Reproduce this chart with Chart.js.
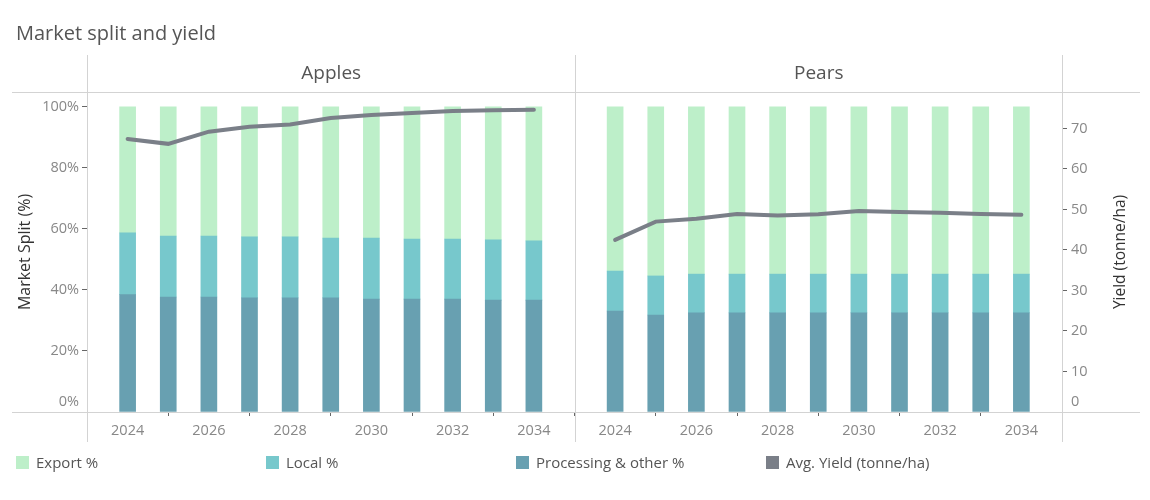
<!DOCTYPE html>
<html>
<head>
<meta charset="utf-8">
<script src="https://cdn.jsdelivr.net/npm/chart.js@4.4.1/dist/chart.umd.min.js"></script>
<style>
  html, body { margin: 0; padding: 0; background: #fff; }
  #wrap { position: relative; width: 1150px; height: 500px; font-family: "Open Sans", sans-serif; }
  #title { position: absolute; left: 16px; top: 19px; font-size: 20px; line-height: 28px; color: #555; }
  .leg { position: absolute; top: 453px; font-size: 15px; line-height: 18px; color: #555; display: flex; align-items: center; }
  .leg i { display: inline-block; width: 13px; height: 13px; margin-right: 7px; }
</style>
</head>
<body>
<div id="wrap">
  <div id="title">Market split and yield</div>
  <canvas id="myChart" width="1150" height="500"></canvas>
</div>
<script>
// values
var years = [2024, 2025, 2026, 2027, 2028, 2029, 2030, 2031, 2032, 2033, 2034];
var panels = ['Apples', 'Pears'];
var seriesNames = ['Export %', 'Local %', 'Processing & other %', 'Avg. Yield (tonne/ha)'];

var applesProcessing = [38.5, 37.7, 37.7, 37.4, 37.4, 37.4, 37.0, 37.0, 37.0, 36.7, 36.7];
var applesLocal      = [20.2, 20.0, 20.0, 20.0, 20.0, 19.6, 20.0, 19.7, 19.7, 19.7, 19.4];
var applesExport     = [41.3, 42.3, 42.3, 42.6, 42.6, 43.0, 43.0, 43.3, 43.3, 43.6, 43.9];
var pearsProcessing  = [33.1, 31.8, 32.5, 32.5, 32.5, 32.5, 32.5, 32.5, 32.5, 32.5, 32.5];
var pearsLocal       = [13.1, 12.8, 12.7, 12.7, 12.7, 12.7, 12.7, 12.7, 12.7, 12.7, 12.7];
var pearsExport      = [53.8, 55.4, 54.8, 54.8, 54.8, 54.8, 54.8, 54.8, 54.8, 54.8, 54.8];
var applesYield      = [67.4, 66.2, 69.2, 70.4, 71.0, 72.6, 73.3, 73.8, 74.3, 74.5, 74.6];
var pearsYield       = [42.5, 47.0, 47.7, 48.9, 48.5, 48.8, 49.6, 49.4, 49.2, 48.9, 48.7];

var yearTicks  = [2024, 2026, 2028, 2030, 2032, 2034];
var splitTicks = [0, 20, 40, 60, 80, 100];
var yieldTicks = [0, 10, 20, 30, 40, 50, 60, 70];

var colors = ['#bdefc9', '#77c8cc', '#68a0b1', '#7a7f88'];

// pears panel sits to the right of apples on the same x scale
var SHIFT = 12;
function pts(apples, pears) {
  var out = [];
  years.forEach(function (yr, i) { out.push({ x: yr, y: apples[i] }); });
  years.forEach(function (yr, i) { out.push({ x: yr + SHIFT, y: pears[i] }); });
  return out;
}
function line(vals, shift) {
  return years.map(function (yr, i) { return { x: yr + shift, y: vals[i] }; });
}

// legend
seriesNames.forEach(function (name, i) {
  var d = document.createElement('div');
  d.className = 'leg';
  d.style.left = (16 + i * 250) + 'px';
  d.innerHTML = '<i style="background:' + colors[i] + '"></i>' + name;
  document.getElementById('wrap').appendChild(d);
});

var frame = {
  id: 'frame',
  beforeDatasetsDraw: function (chart) {
    var ctx = chart.ctx, a = chart.chartArea, x = chart.scales.x;
    var mid = Math.round(x.getPixelForValue(2035)) + 0.5;
    ctx.save();
    ctx.strokeStyle = '#d3d3d3';
    ctx.lineWidth = 1;
    ctx.beginPath();
    [Math.round(a.top) + 0.5, Math.round(a.bottom) + 0.5].forEach(function (y) {
      ctx.moveTo(12, y); ctx.lineTo(1140, y);
    });
    [Math.round(a.left) + 0.5, mid, Math.round(a.right) + 0.5].forEach(function (px) {
      ctx.moveTo(px, 55); ctx.lineTo(px, 442);
    });
    ctx.stroke();
    ctx.fillStyle = '#555';
    ctx.font = '19px "Open Sans"';
    ctx.textAlign = 'center';
    ctx.textBaseline = 'middle';
    ctx.fillText(panels[0], (a.left + mid) / 2, 74);
    ctx.fillText(panels[1], (mid + a.right) / 2, 74);
    // right axis title, reading bottom to top like the left one
    ctx.fillStyle = '#333';
    ctx.font = '15.5px "Open Sans"';
    ctx.translate(1121, (a.top + a.bottom) / 2);
    ctx.rotate(-Math.PI / 2);
    ctx.fillText('Yield (tonne/ha)', 0, 0);
    ctx.restore();
  }
};

var tickFont = { family: '"Open Sans"', size: 14.5, lineHeight: 1.35 };

var myChart = new Chart(document.getElementById('myChart').getContext('2d'), {
  type: 'bar',
  data: {
    datasets: [
      { label: seriesNames[2], data: pts(applesProcessing, pearsProcessing), backgroundColor: colors[2], order: 1 },
      { label: seriesNames[1], data: pts(applesLocal, pearsLocal), backgroundColor: colors[1], order: 1 },
      { label: seriesNames[0], data: pts(applesExport, pearsExport), backgroundColor: colors[0], order: 1 },
      { type: 'line', label: seriesNames[3], data: line(applesYield, 0), yAxisID: 'y2',
        borderColor: colors[3], borderWidth: 4, pointRadius: 0, borderCapStyle: 'round', order: 0 },
      { type: 'line', label: seriesNames[3], data: line(pearsYield, SHIFT), yAxisID: 'y2',
        borderColor: colors[3], borderWidth: 4, pointRadius: 0, borderCapStyle: 'round', order: 0 }
    ]
  },
  options: {
    responsive: false,
    animation: false,
    barThickness: 16,
    layout: { padding: { top: 92, left: 0, right: 0, bottom: 0 } },
    plugins: { legend: { display: false }, tooltip: { enabled: false } },
    scales: {
      x: {
        type: 'linear', min: 2023, max: 2023 + 2 * SHIFT, stacked: true, offset: false,
        afterBuildTicks: function (s) {
          s.ticks = yearTicks.map(function (v) { return { value: v }; })
            .concat(yearTicks.map(function (v) { return { value: v + SHIFT }; }));
        },
        ticks: {
          autoSkip: false, maxRotation: 0, padding: 5, color: '#888', font: tickFont,
          callback: function (v) { return String(v > 2035 ? v - SHIFT : v); }
        },
        grid: { display: true, drawOnChartArea: false, tickLength: 4, tickColor: '#666' },
        border: { display: false },
        afterFit: function (s) { s.height = 88; }
      },
      y: {
        position: 'left', stacked: true, min: 0, max: 104.9,
        afterBuildTicks: function (s) { s.ticks = splitTicks.map(function (v) { return { value: v }; }); },
        ticks: {
          padding: 3, color: '#888', font: tickFont,
          callback: function (v) { return v === 0 ? ['0%', ''] : v + '%'; }
        },
        grid: {
          display: true, drawOnChartArea: false, tickLength: 5,
          tickColor: function (c) { return c.tick && c.tick.value === 0 ? 'rgba(0,0,0,0)' : '#666'; }
        },
        border: { display: false },
        title: { display: true, text: 'Market Split (%)', color: '#333', font: { family: '"Open Sans"', size: 16 }, padding: { top: 16, bottom: 0 } },
        afterFit: function (s) { s.width = 87; }
      },
      y2: {
        position: 'right', min: 0, max: 79,
        afterBuildTicks: function (s) { s.ticks = yieldTicks.map(function (v) { return { value: v }; }); },
        ticks: {
          padding: 4, color: '#888', font: tickFont,
          callback: function (v) { return v === 0 ? ['0', ''] : String(v); }
        },
        grid: {
          display: true, drawOnChartArea: false, tickLength: 5,
          tickColor: function (c) { return c.tick && c.tick.value === 0 ? 'rgba(0,0,0,0)' : '#666'; }
        },
        border: { display: false },
        afterFit: function (s) { s.width = 88; }
      }
    }
  },
  plugins: [frame]
});
</script>
</body>
</html>
